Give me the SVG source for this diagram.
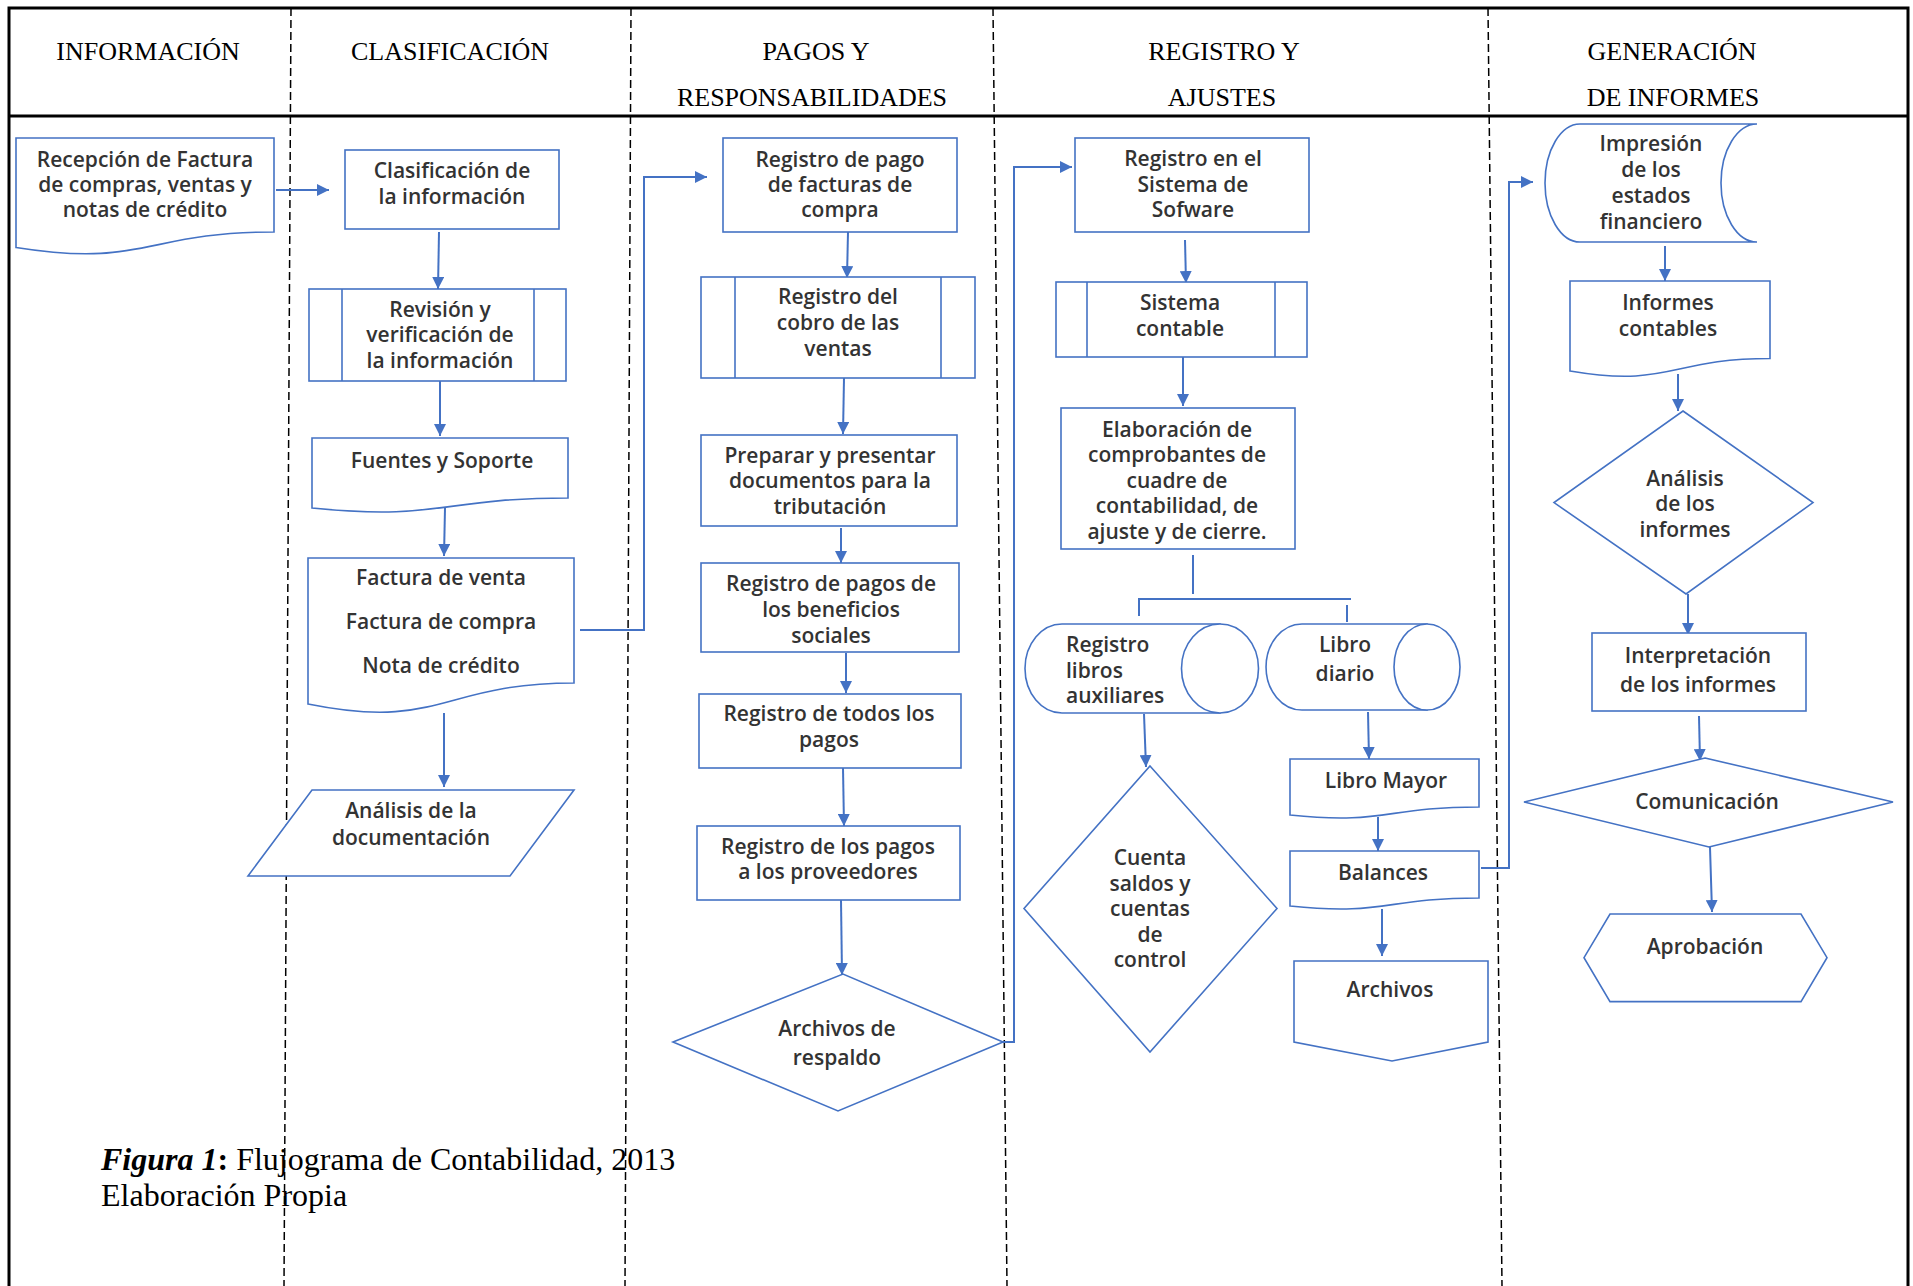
<svg xmlns="http://www.w3.org/2000/svg" width="1913" height="1286" viewBox="0 0 1913 1286">
<style>
.hdr{font-family:"Liberation Serif","Times New Roman",serif;font-size:26px;fill:#000;text-anchor:middle}
.cap{font-family:"Liberation Serif","Times New Roman",serif;font-size:32px;fill:#000}
.t{font-family:"Open Sans","Liberation Sans",sans-serif;font-size:21px;font-weight:600;fill:#333;text-anchor:middle}
.tl{font-family:"Open Sans","Liberation Sans",sans-serif;font-size:21px;font-weight:600;fill:#333}
.s{fill:#fff;stroke:#4472C4;stroke-width:1.6}
.ln{fill:none;stroke:#4472C4;stroke-width:1.6}
.c{fill:none;stroke:#4472C4;stroke-width:2;marker-end:url(#ah)}
.cn{fill:none;stroke:#4472C4;stroke-width:2}
.lane{stroke:#000;stroke-width:1.5;stroke-dasharray:8 4}
</style>
<defs>
<marker id="ah" viewBox="0 0 10 10" refX="10" refY="5" markerWidth="12" markerHeight="12" markerUnits="userSpaceOnUse" orient="auto">
<path d="M0,0 L10,5 L0,10 z" fill="#4472C4"/>
</marker>
</defs>
<rect width="1913" height="1286" fill="#fff"/>
<g id="frame">
<path d="M9,1300 V8 H1908 V1300" fill="none" stroke="#000" stroke-width="3"/>
<line x1="9" y1="116" x2="1908" y2="116" stroke="#000" stroke-width="3"/>
<line class="lane" x1="291" y1="8" x2="284" y2="1286"/>
<line class="lane" x1="631" y1="8" x2="625" y2="1286"/>
<line class="lane" x1="993" y1="8" x2="1007" y2="1286"/>
<line class="lane" x1="1488" y1="8" x2="1502" y2="1286"/>
<text class="hdr" x="148" y="60">INFORMACIÓN</text>
<text class="hdr" x="450" y="60">CLASIFICACIÓN</text>
<text class="hdr" x="816" y="60">PAGOS Y</text>
<text class="hdr" x="812" y="106">RESPONSABILIDADES</text>
<text class="hdr" x="1224" y="60">REGISTRO Y</text>
<text class="hdr" x="1222" y="106">AJUSTES</text>
<text class="hdr" x="1672" y="60">GENERACIÓN</text>
<text class="hdr" x="1673" y="106">DE INFORMES</text>
</g>
<g id="connectors">
<line class="c" x1="276" y1="190" x2="329" y2="190"/>
<line class="c" x1="439" y1="232" x2="438" y2="289"/>
<line class="c" x1="440" y1="381" x2="440" y2="436"/>
<line class="c" x1="445" y1="508" x2="444" y2="556"/>
<line class="c" x1="444" y1="713" x2="444" y2="787"/>
<path class="c" d="M580,630 H644 V177 H707"/>
<line class="c" x1="848" y1="232" x2="847" y2="278"/>
<line class="c" x1="844" y1="378" x2="843" y2="434"/>
<line class="c" x1="841" y1="528" x2="841" y2="563"/>
<line class="c" x1="846" y1="653" x2="846" y2="693"/>
<line class="c" x1="843" y1="768" x2="844" y2="826"/>
<line class="c" x1="841" y1="900" x2="842" y2="975"/>
<path class="c" d="M1003,1042 H1014 V167 H1072"/>
<line class="c" x1="1185" y1="240" x2="1186" y2="283"/>
<line class="c" x1="1183" y1="357" x2="1183" y2="406"/>
<line class="cn" x1="1193" y1="555" x2="1193" y2="594"/>
<line class="cn" x1="1138" y1="599" x2="1351" y2="599"/>
<line class="cn" x1="1139" y1="599" x2="1139" y2="616"/>
<line class="cn" x1="1347" y1="605" x2="1347" y2="622"/>
<line class="c" x1="1144" y1="714" x2="1146" y2="767"/>
<line class="c" x1="1368" y1="712" x2="1369" y2="759"/>
<line class="c" x1="1378" y1="817" x2="1378" y2="851"/>
<line class="c" x1="1382" y1="909" x2="1382" y2="956"/>
<path class="c" d="M1481,868 H1509 V182 H1533"/>
<line class="c" x1="1665" y1="246" x2="1665" y2="281"/>
<line class="c" x1="1678" y1="374" x2="1678" y2="411"/>
<line class="c" x1="1688" y1="594" x2="1688" y2="635"/>
<line class="c" x1="1699" y1="716" x2="1700" y2="761"/>
<line class="c" x1="1710" y1="847" x2="1712" y2="912"/>
</g>
<g id="n1">
<path class="s" d="M16,138 H274 V232 C145,232 145,268 16,247.5 Z"/>
<text class="t" x="145" y="167">Recepción de Factura<tspan x="145" y="192">de compras, ventas y</tspan><tspan x="145" y="217">notas de crédito</tspan></text>
</g>
<g id="n2">
<rect class="s" x="345" y="150" width="214" height="79"/>
<text class="t" x="452" y="178">Clasificación de<tspan x="452" y="204">la información</tspan></text>
</g>
<g id="n3">
<rect class="s" x="309" y="289" width="257" height="92"/>
<line class="ln" x1="342" y1="289" x2="342" y2="381"/>
<line class="ln" x1="534" y1="289" x2="534" y2="381"/>
<text class="t" x="440" y="317">Revisión y<tspan x="440" y="342">verificación de</tspan><tspan x="440" y="368">la información</tspan></text>
</g>
<g id="n4">
<path class="s" d="M312,438 H568 V498 C440,498 440,521 312,508 Z"/>
<text class="t" x="442" y="468">Fuentes y Soporte</text>
</g>
<g id="n5">
<path class="s" d="M308,558 H574 V683 C441,683 441,731 308,704 Z"/>
<text class="t" x="441" y="585">Factura de venta<tspan x="441" y="629">Factura de compra</tspan><tspan x="441" y="673">Nota de crédito</tspan></text>
</g>
<g id="n6">
<path class="s" d="M248,876 L312,790 H574 L510,876 Z"/>
<text class="t" x="411" y="818">Análisis de la<tspan x="411" y="845">documentación</tspan></text>
</g>
<g id="n7">
<rect class="s" x="723" y="138" width="234" height="94"/>
<text class="t" x="840" y="167">Registro de pago<tspan x="840" y="192">de facturas de</tspan><tspan x="840" y="217">compra</tspan></text>
</g>
<g id="n8">
<rect class="s" x="701" y="277" width="274" height="101"/>
<line class="ln" x1="735" y1="277" x2="735" y2="378"/>
<line class="ln" x1="941" y1="277" x2="941" y2="378"/>
<text class="t" x="838" y="304">Registro del<tspan x="838" y="330">cobro de las</tspan><tspan x="838" y="356">ventas</tspan></text>
</g>
<g id="n9">
<rect class="s" x="701" y="435" width="256" height="91"/>
<text class="t" x="830" y="463">Preparar y presentar<tspan x="830" y="488">documentos para la</tspan><tspan x="830" y="514">tributación</tspan></text>
</g>
<g id="n10">
<rect class="s" x="701" y="563" width="258" height="89"/>
<text class="t" x="831" y="591">Registro de pagos de<tspan x="831" y="617">los beneficios</tspan><tspan x="831" y="643">sociales</tspan></text>
</g>
<g id="n11">
<rect class="s" x="699" y="694" width="262" height="74"/>
<text class="t" x="829" y="721">Registro de todos los<tspan x="829" y="747">pagos</tspan></text>
</g>
<g id="n12">
<rect class="s" x="697" y="826" width="263" height="74"/>
<text class="t" x="828" y="854">Registro de los pagos<tspan x="828" y="879">a los proveedores</tspan></text>
</g>
<g id="n13">
<path class="s" d="M673,1042 L843,974 L1003,1042 L838,1111 Z"/>
<text class="t" x="837" y="1036">Archivos de<tspan x="837" y="1065">respaldo</tspan></text>
</g>
<g id="n14">
<rect class="s" x="1075" y="138" width="234" height="94"/>
<text class="t" x="1193" y="166">Registro en el<tspan x="1193" y="192">Sistema de</tspan><tspan x="1193" y="217">Sofware</tspan></text>
</g>
<g id="n15">
<rect class="s" x="1056" y="282" width="251" height="75"/>
<line class="ln" x1="1087" y1="282" x2="1087" y2="357"/>
<line class="ln" x1="1275" y1="282" x2="1275" y2="357"/>
<text class="t" x="1180" y="310">Sistema<tspan x="1180" y="336">contable</tspan></text>
</g>
<g id="n16">
<rect class="s" x="1061" y="408" width="234" height="141"/>
<text class="t" x="1177" y="437">Elaboración de<tspan x="1177" y="462">comprobantes de</tspan><tspan x="1177" y="488">cuadre de</tspan><tspan x="1177" y="513">contabilidad, de</tspan><tspan x="1177" y="539">ajuste y de cierre.</tspan></text>
</g>
<g id="n17">
<path class="s" d="M1220,624 H1062 A37,44.5 0 0 0 1062,713 H1220 Z"/>
<ellipse class="s" cx="1220" cy="668.5" rx="38.5" ry="44.5"/>
<text class="tl" x="1066" y="652">Registro<tspan x="1066" y="678">libros</tspan><tspan x="1066" y="703">auxiliares</tspan></text>
</g>
<g id="n18">
<path class="s" d="M1427,624 H1302 A36,43 0 0 0 1302,710 H1427 Z"/>
<ellipse class="s" cx="1427" cy="667" rx="33" ry="43"/>
<text class="t" x="1345" y="652">Libro<tspan x="1345" y="681">diario</tspan></text>
</g>
<g id="n19">
<path class="s" d="M1150,766 L1277,908.5 L1150,1052 L1024,908.5 Z"/>
<text class="t" x="1150" y="865">Cuenta<tspan x="1150" y="891">saldos y</tspan><tspan x="1150" y="916">cuentas</tspan><tspan x="1150" y="942">de</tspan><tspan x="1150" y="967">control</tspan></text>
</g>
<g id="n20">
<path class="s" d="M1290,759 H1479 V807 C1384.5,807 1384.5,825 1290,815 Z"/>
<text class="t" x="1386" y="788">Libro Mayor</text>
</g>
<g id="n21">
<path class="s" d="M1290,851 H1479 V898 C1384.5,898 1384.5,916 1290,906 Z"/>
<text class="t" x="1383" y="880">Balances</text>
</g>
<g id="n22">
<path class="s" d="M1294,961 H1488 V1042 L1392,1061 L1294,1042 Z"/>
<text class="t" x="1390" y="997">Archivos</text>
</g>
<g id="n23">
<path class="s" d="M1580,124 H1757 A36,59 0 0 0 1757,242 H1580 A35,59 0 0 1 1580,124 Z"/>
<text class="t" x="1651" y="151">Impresión<tspan x="1651" y="177">de los</tspan><tspan x="1651" y="203">estados</tspan><tspan x="1651" y="229">financiero</tspan></text>
</g>
<g id="n24">
<path class="s" d="M1570,281 H1770 V358.5 C1670,358.5 1670,388 1570,371 Z"/>
<text class="t" x="1668" y="310">Informes<tspan x="1668" y="336">contables</tspan></text>
</g>
<g id="n25">
<path class="s" d="M1683,411 L1813,502.6 L1686,594 L1554,502.6 Z"/>
<text class="t" x="1685" y="486">Análisis<tspan x="1685" y="511">de los</tspan><tspan x="1685" y="537">informes</tspan></text>
</g>
<g id="n26">
<rect class="s" x="1592" y="633" width="214" height="78"/>
<text class="t" x="1698" y="663">Interpretación<tspan x="1698" y="692">de los informes</tspan></text>
</g>
<g id="n27">
<path class="s" d="M1705,758 L1893,802 L1709,847 L1524,802 Z"/>
<text class="t" x="1707" y="809">Comunicación</text>
</g>
<g id="n28">
<path class="s" d="M1610,914 H1801 L1827,957.7 L1801,1001.6 H1610 L1584,957.7 Z"/>
<text class="t" x="1705" y="954">Aprobación</text>
</g>
<g id="caption">
<text class="cap" x="101" y="1170"><tspan font-weight="bold" font-style="italic">Figura 1</tspan><tspan font-weight="bold">:</tspan> Flujograma de Contabilidad, 2013</text>
<text class="cap" x="101" y="1206">Elaboración Propia</text>
</g>
</svg>
